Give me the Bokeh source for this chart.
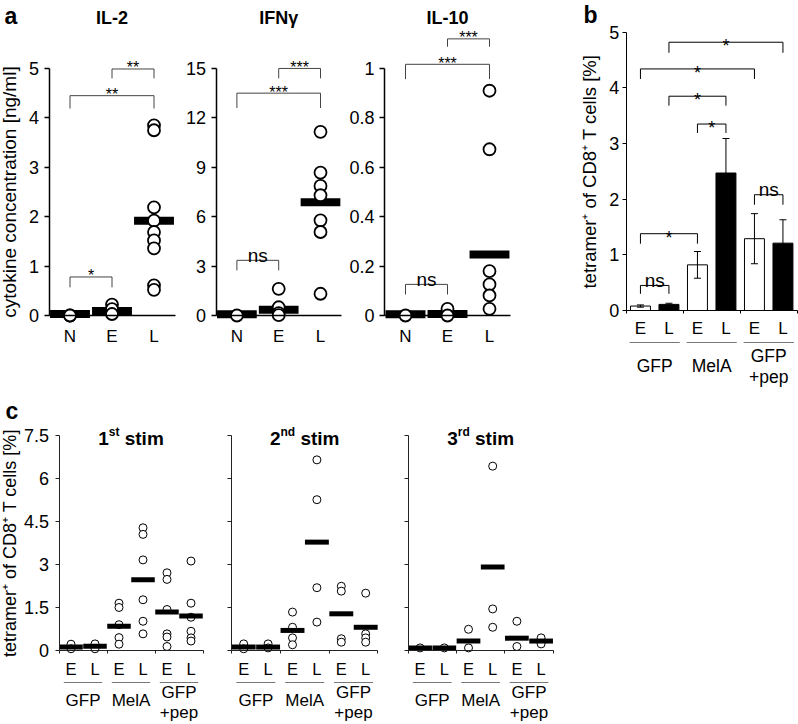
from bokeh.plotting import figure
from bokeh.models import LinearAxis, FixedTicker, Range1d, Whisker, ColumnDataSource
from bokeh.layouts import row, column
from bokeh.embed import file_html
from bokeh.resources import INLINE
from bokeh.core.properties import value

FONT = "Liberation Sans"

# ---------------- data: panel a ----------------
a_categories = ["N", "E", "L"]
il2_N = [0.0, 0.0]
il2_E = [0.22, 0.13, 0.03]
il2_L = [3.85, 3.75, 2.19, 1.92, 1.69, 1.52, 1.36, 0.61, 0.52]
il2_means = [0.03, 0.09, 1.92]
ifng_N = [0.0]
ifng_E = [1.62, 0.5, 0.15, 0.02]
ifng_L = [11.15, 8.68, 7.87, 7.3, 5.78, 5.07, 1.32]
ifng_means = [0.08, 0.35, 6.88]
il10_N = [0.0]
il10_E = [0.027, 0.0]
il10_L = [0.91, 0.673, 0.18, 0.126, 0.081, 0.027]
il10_means = [0.005, 0.006, 0.247]
il2_ticks = [0, 1, 2, 3, 4, 5]
ifng_ticks = [0, 3, 6, 9, 12, 15]
il10_ticks = [0, 0.2, 0.4, 0.6, 0.8, 1]
# significance brackets: (from, to, bar height, leg end, label)
il2_sig = [(0, 1, 0.78, 0.57, "*"), (0, 2, 4.45, 4.19, "**"), (1, 2, 4.99, 4.80, "**")]
ifng_sig = [(0, 1, 3.35, 2.74, "ns"), (0, 2, 13.5, 12.6, "***"), (1, 2, 15.0, 14.4, "***")]
il10_sig = [(0, 1, 0.126, 0.085, "ns"), (0, 2, 1.017, 0.957, "***"), (1, 2, 1.12, 1.088, "***")]

# ---------------- data: panel b ----------------
b_groups = ["GFP", "MelA", "GFP\n+pep"]
b_sub = ["E", "L"]
b_early = [0.08, 0.82, 1.29]
b_early_err = [0.02, 0.24, 0.45]
b_late = [0.11, 2.47, 1.21]
b_late_err = [0.02, 0.62, 0.42]
b_ticks = [0, 1, 2, 3, 4, 5]
b_sig = [(0, 1, 0.45, 0.30, "ns"), (0, 2, 1.38, 1.20, "*"), (4, 5, 2.08, 1.90, "ns"),
         (2, 3, 3.35, 3.19, "*"), (1, 3, 3.85, 3.68, "*"), (0, 4, 4.34, 4.16, "*"),
         (1, 5, 4.82, 4.63, "*")]

# ---------------- data: panel c ----------------
c_ticks = [0, 1.5, 3, 4.5, 6, 7.5]
c_titles = [("1", "st"), ("2", "nd"), ("3", "rd")]
stim1_points = [[0.22, 0.06], [0.23, 0.06], [1.65, 1.5, 0.9, 0.45, 0.22],
                [4.28, 4.05, 3.16, 1.77, 1.02, 0.58], [2.71, 2.48, 1.43, 0.58, 0.47, 0.14],
                [3.12, 1.65, 1.16, 0.67, 0.44, 0.33]]
stim1_means = [0.12, 0.15, 0.85, 2.47, 1.34, 1.2]
stim2_points = [[0.23, 0.06], [0.23, 0.09], [1.34, 0.81, 0.44, 0.2], [6.65, 5.26, 2.19, 0.99],
                [2.24, 2.07, 0.41, 0.29], [2.0, 0.58, 0.44, 0.29]]
stim2_means = [0.12, 0.12, 0.7, 3.78, 1.28, 0.81]
stim3_points = [[0.09], [0.09], [0.74, 0.09], [6.43, 1.45, 0.81], [1.02, 0.14], [0.44, 0.23]]
stim3_means = [0.09, 0.09, 0.33, 2.91, 0.43, 0.33]

YLAB_A = "cytokine concentration [ng/ml]"
YLAB_T = "tetramer\u207a of CD8\u207a T cells [%]"


# ---------------- helpers ----------------
def make_panel(left, right, top, bottom, x0, ux, y0, uy):
    p = figure(width=int(right - left), height=int(bottom - top),
               x_range=Range1d((left - x0) / ux, (right - x0) / ux),
               y_range=Range1d((y0 - bottom) / uy, (y0 - top) / uy),
               output_backend="svg", toolbar_location=None,
               x_axis_location=None, y_axis_location=None,
               min_border=0, outline_line_color=None)
    p.grid.visible = False
    fx = lambda px: (px - x0) / ux
    fy = lambda py: (y0 - py) / uy
    return p, fx, fy


def add_yaxis(p, ticks, show_labels=True, label=None, tick_size="18px", tick_out=5,
              standoff=5, lw=1.5, color="black", label_size="19px", label_standoff=6):
    ax = LinearAxis(fixed_location=0, bounds=(ticks[0], ticks[-1]),
                    ticker=FixedTicker(ticks=ticks, minor_ticks=[]))
    if show_labels:
        ax.major_label_overrides = {t: "%g" % t for t in ticks}
    else:
        ax.major_label_overrides = {t: "" for t in ticks}
    ax.major_tick_out = tick_out
    ax.major_tick_in = 0
    ax.minor_tick_out = 0
    ax.minor_tick_in = 0
    ax.axis_line_width = lw
    ax.major_tick_line_width = lw
    ax.axis_line_color = color
    ax.major_tick_line_color = color
    ax.major_label_text_font = FONT
    ax.major_label_text_font_size = tick_size
    ax.major_label_text_color = "black"
    ax.major_label_standoff = standoff
    if label:
        ax.axis_label = label
        ax.axis_label_text_font = FONT
        ax.axis_label_text_font_size = label_size
        ax.axis_label_text_font_style = "normal"
        ax.axis_label_text_color = "black"
        ax.axis_label_standoff = label_standoff
    p.add_layout(ax, "left")
    return ax


def add_xaxis(p, labels, lab_size="17px", standoff=10, lw=1.5, color="black", bound_ticks=None):
    n = len(labels)
    centers = [i + 0.5 for i in range(n)]
    ax = LinearAxis(fixed_location=0, bounds=(0, n), ticker=FixedTicker(ticks=centers, minor_ticks=[]))
    ax.major_label_overrides = {c: lab for c, lab in zip(centers, labels)}
    ax.major_tick_out = 0
    ax.major_tick_in = 0
    ax.minor_tick_out = 0
    ax.minor_tick_in = 0
    ax.axis_line_width = lw
    ax.axis_line_color = color
    ax.major_label_text_font = FONT
    ax.major_label_text_font_size = lab_size
    ax.major_label_text_color = "black"
    ax.major_label_standoff = standoff
    p.add_layout(ax, "below")
    if bound_ticks:
        ax2 = LinearAxis(fixed_location=0, bounds=(0, n),
                         ticker=FixedTicker(ticks=bound_ticks, minor_ticks=[]))
        ax2.major_label_overrides = {t: "" for t in bound_ticks}
        ax2.axis_line_color = None
        ax2.major_tick_out = 3
        ax2.major_tick_in = 0
        ax2.minor_tick_out = 0
        ax2.major_tick_line_color = color
        ax2.major_tick_line_width = 1
        p.add_layout(ax2, "below")


def add_brackets(p, sig, color, lw, star_size, ns_size, star_off, ns_off):
    xs, ys = [], []
    for i, j, bar, leg, lab in sig:
        xs.append([i + 0.5, i + 0.5, j + 0.5, j + 0.5])
        ys.append([leg, bar, bar, leg])
    p.multi_line(xs, ys, line_color=color, line_width=lw)
    st = [(0.5 * (i + j) + 0.5, bar, lab) for i, j, bar, leg, lab in sig if lab != "ns"]
    ns = [(0.5 * (i + j) + 0.5, bar, lab) for i, j, bar, leg, lab in sig if lab == "ns"]
    if st:
        p.text(x=[s[0] for s in st], y=[s[1] for s in st], text=[s[2] for s in st],
               text_font=value(FONT), text_font_size=star_size, text_color="black",
               text_align="center", text_baseline="alphabetic", y_offset=star_off)
    if ns:
        p.text(x=[s[0] for s in ns], y=[s[1] for s in ns], text=[s[2] for s in ns],
               text_font=value(FONT), text_font_size=ns_size, text_color="black",
               text_align="center", text_baseline="alphabetic", y_offset=ns_off)


# ---------------- panel a ----------------
fa1, fxa1, fya1 = make_panel(0, 183, 0, 393, 48.5, 42, 315, 49.4)
fa2, fxa2, fya2 = make_panel(183, 347, 0, 393, 215.5, 41.8, 315, 16.47)
fa3, fxa3, fya3 = make_panel(347, 520, 0, 393, 384, 42, 315, 247)

a_specs = [
    (fa1, fxa1, fya1, "IL-2", [il2_N, il2_E, il2_L], il2_means, il2_ticks, il2_sig, True),
    (fa2, fxa2, fya2, "IFN\u03b3", [ifng_N, ifng_E, ifng_L], ifng_means, ifng_ticks, ifng_sig, False),
    (fa3, fxa3, fya3, "IL-10", [il10_N, il10_E, il10_L], il10_means, il10_ticks, il10_sig, False),
]
for p, fx, fy, title, groups, means, ticks, sig, first in a_specs:
    p.rect(x=[i + 0.5 for i in range(3)], y=means, width=0.95, height=8, height_units="screen",
           fill_color="black", line_color=None)
    xs = [i + 0.5 for i, g in enumerate(groups) for _ in g]
    ys = [v for g in groups for v in g]
    p.scatter(xs, ys, size=12, marker="circle", fill_color="white", line_color="black", line_width=1.8)
    add_yaxis(p, ticks, label=YLAB_A if first else None, tick_size="18px", tick_out=5, standoff=5,
              lw=1.5, label_size="19px", label_standoff=6)
    add_xaxis(p, a_categories, lab_size="17px", standoff=11, lw=1.5)
    add_brackets(p, sig, "#444444", 1, "16px", "19px", -1, -5)
    p.text(x=[1.5], y=[fy(17)], text=[title], text_font=value(FONT), text_font_size="18px",
           text_font_style="bold", text_align="center", text_baseline="middle", text_color="black")

fa1.text(x=[fxa1(4)], y=[fya1(15)], text=["a"], text_font=value(FONT), text_font_size="23px",
         text_font_style="bold", text_align="left", text_baseline="middle", text_color="black")

# ---------------- panel b ----------------
fb, fxb, fyb = make_panel(520, 798, 0, 393, 625.7, 28.5, 310, 55.66)
early_x = [2 * g + 0.5 for g in range(3)]
late_x = [2 * g + 1.5 for g in range(3)]
fb.vbar(x=early_x, top=b_early, width=0.7, fill_color="white", line_color="black", line_width=1)
fb.vbar(x=late_x, top=b_late, width=0.7, fill_color="black", line_color="black", line_width=1)
err_src = ColumnDataSource(dict(
    x=early_x + late_x,
    upper=[m + e for m, e in zip(b_early + b_late, b_early_err + b_late_err)],
    lower=[m - e for m, e in zip(b_early + b_late, b_early_err + b_late_err)],
))
wh = Whisker(base="x", upper="upper", lower="lower", source=err_src, level="overlay",
             line_color="black", line_width=1)
wh.upper_head.size = 7
wh.lower_head.size = 7
wh.upper_head.line_color = "black"
wh.lower_head.line_color = "black"
fb.add_layout(wh)
add_yaxis(fb, b_ticks, label=YLAB_T, tick_size="18px", tick_out=4, standoff=3, lw=1,
          label_size="18.5px", label_standoff=6)
add_xaxis(fb, b_sub * 3, lab_size="17px", standoff=8, lw=1, bound_ticks=[0, 2, 4, 6])
add_brackets(fb, b_sig, "black", 1, "18px", "19px", 4, -5)
fb.segment(x0=[2 * g + 0.12 for g in range(3)], y0=[fyb(342)] * 3,
           x1=[2 * g + 1.88 for g in range(3)], y1=[fyb(342)] * 3, line_color="#777777", line_width=1)
fb.text(x=[1, 3], y=[fyb(365)] * 2, text=b_groups[:2], text_font=value(FONT), text_font_size="17.5px",
        text_align="center", text_baseline="middle", text_color="black")
fb.text(x=[5], y=[fyb(366)], text=b_groups[2:], text_font=value(FONT), text_font_size="17.5px",
        text_align="center", text_baseline="middle", text_color="black", text_line_height=1.05)
fb.text(x=[fxb(583)], y=[fyb(14)], text=["b"], text_font=value(FONT), text_font_size="23px",
        text_font_style="bold", text_align="left", text_baseline="middle", text_color="black")

# ---------------- panel c ----------------
fc1, fxc1, fyc1 = make_panel(0, 215, 393, 724, 58.5, 24, 650, 28.67)
fc2, fxc2, fyc2 = make_panel(215, 395, 393, 724, 231, 24.4, 650, 28.67)
fc3, fxc3, fyc3 = make_panel(395, 798, 393, 724, 407.5, 24.2, 650, 28.67)

SUPW = {"st": 0.889, "nd": 1.222, "rd": 1.0}
c_specs = [
    (fc1, fxc1, fyc1, c_titles[0], stim1_points, stim1_means, True),
    (fc2, fxc2, fyc2, c_titles[1], stim2_points, stim2_means, False),
    (fc3, fxc3, fyc3, c_titles[2], stim3_points, stim3_means, False),
]
for p, fx, fy, (num, sup), pts, means, first in c_specs:
    xs = [i + 0.5 for i, g in enumerate(pts) for _ in g]
    ys = [v for g in pts for v in g]
    p.scatter(xs, ys, size=8, marker="circle", fill_color="white", line_color="black", line_width=1)
    p.rect(x=[i + 0.5 for i in range(6)], y=means, width=0.98, height=5, height_units="screen",
           fill_color="black", line_color=None)
    add_yaxis(p, c_ticks, show_labels=first, label=YLAB_T if first else None, tick_size="18px",
              tick_out=4, standoff=6, lw=1, color="#222222", label_size="18px", label_standoff=1)
    add_xaxis(p, b_sub * 3, lab_size="16.5px", standoff=9, lw=1, color="#222222", bound_ticks=[0, 2, 4, 6])
    p.segment(x0=[2 * g + 0.2 for g in range(3)], y0=[fy(682)] * 3,
              x1=[2 * g + 1.8 for g in range(3)], y1=[fy(682)] * 3, line_color="#777777", line_width=1)
    p.text(x=[1, 3], y=[fy(700)] * 2, text=b_groups[:2], text_font=value(FONT), text_font_size="17px",
           text_align="center", text_baseline="middle", text_color="black")
    p.text(x=[5], y=[fy(702)], text=b_groups[2:], text_font=value(FONT), text_font_size="17px",
           text_align="center", text_baseline="middle", text_color="black", text_line_height=1.1)
    # title with superscript
    w_num = 0.556 * 19
    w_sup = SUPW[sup] * 12
    w_stim = 0.278 * 19 + 2.056 * 19
    start = -(w_num + w_sup + w_stim) / 2
    base = fy(438)
    p.text(x=[3], y=[base], text=[num], text_font=value(FONT), text_font_size="19px", text_font_style="bold",
           text_align="left", text_baseline="alphabetic", x_offset=start, text_color="black")
    p.text(x=[3], y=[base], text=[sup], text_font=value(FONT), text_font_size="12px", text_font_style="bold",
           text_align="left", text_baseline="alphabetic", x_offset=start + w_num, y_offset=-7,
           text_color="black")
    p.text(x=[3], y=[base], text=["stim"], text_font=value(FONT), text_font_size="19px", text_font_style="bold",
           text_align="left", text_baseline="alphabetic", x_offset=start + w_num + w_sup + 0.278 * 19,
           text_color="black")

fc1.text(x=[fxc1(5)], y=[fyc1(410)], text=["c"], text_font=value(FONT), text_font_size="23px",
         text_font_style="bold", text_align="left", text_baseline="middle", text_color="black")

layout = column(row(fa1, fa2, fa3, fb), row(fc1, fc2, fc3))
open("out.html", "w").write(file_html(layout, INLINE))
